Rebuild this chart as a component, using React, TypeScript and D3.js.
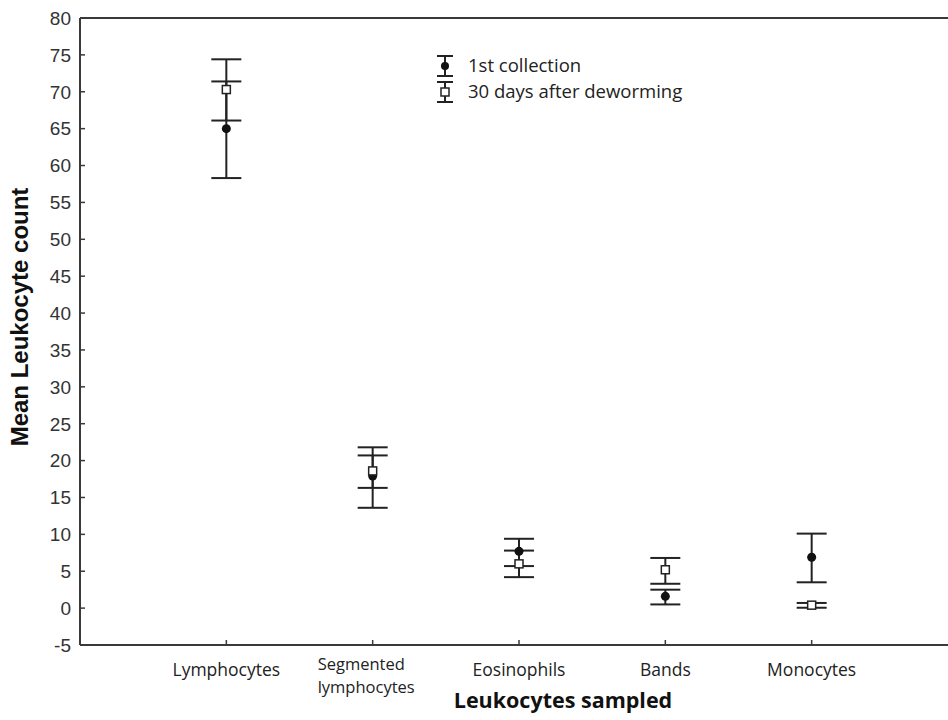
import React from 'react';
import * as d3 from 'd3';

// categories on the x axis (each label may wrap on several lines)
const categories: string[][] = [
  ['Lymphocytes'],
  ['Segmented', 'lymphocytes'],
  ['Eosinophils'],
  ['Bands'],
  ['Monocytes'],
];

// 1st collection (filled circle): mean, lower and upper whisker
const firstMean = [65.0, 17.9, 7.7, 1.6, 6.9];
const firstLow = [58.3, 13.6, 5.7, 0.5, 3.5];
const firstHigh = [71.4, 21.8, 9.4, 2.5, 10.1];

// 30 days after deworming (open square)
const afterMean = [70.3, 18.6, 6.0, 5.2, 0.4];
const afterLow = [66.1, 16.3, 4.2, 3.3, 0.05];
const afterHigh = [74.4, 20.7, 7.8, 6.8, 0.7];

const yTickValues = d3.range(-5, 81, 5);

const legendLabels = ['1st collection', '30 days after deworming'];

const ink = '#222';
const frame = '#3a3a3a';

const App = () => {
  const width = 948;
  const height = 720;
  const left = 80;
  const top = 18;
  const bottom = 645;
  const right = 958; // frame runs past the picture edge

  const keys = categories.map(c => c.join(' '));
  const xScale = d3.scalePoint<string>().domain(keys).range([left, right]).padding(1);
  const yScale = d3.scaleLinear().domain([-5, 80]).range([bottom, top]);

  const capHalf = 15;

  const whisker = (x: number, lo: number, hi: number, k: string) => (
    <g key={k} stroke={ink} strokeWidth={2}>
      <line x1={x} x2={x} y1={yScale(lo)} y2={yScale(hi)} />
      <line x1={x - capHalf} x2={x + capHalf} y1={yScale(lo)} y2={yScale(lo)} />
      <line x1={x - capHalf} x2={x + capHalf} y1={yScale(hi)} y2={yScale(hi)} />
    </g>
  );

  const yTicks = yTickValues.map(v => (
    <g key={v} transform={`translate(0,${yScale(v)})`}>
      <line x1={left} x2={left + 5} stroke={frame} strokeWidth={1.5} />
      <text
        x={left - 9}
        dy="0.36em"
        textAnchor="end"
        fontFamily="'Liberation Sans', Arial, sans-serif"
        fontSize={19}
        fill="#333"
      >
        {v}
      </text>
    </g>
  ));

  const xTicks = categories.map((lines, i) => {
    const x = xScale(keys[i]) as number;
    const multi = lines.length > 1;
    return (
      <g key={keys[i]}>
        <line x1={x} x2={x} y1={bottom} y2={bottom - 5} stroke={frame} strokeWidth={1.5} />
        {lines.map((l, j) => (
          <text
            key={l}
            x={multi ? x - 55 : x}
            y={(multi ? 670 : 676) + j * 22.5}
            fontFamily="'Open Sans', sans-serif"
            fontSize={multi ? 16.5 : 17.5}
            fill={ink}
            textAnchor={multi ? 'start' : 'middle'}
          >
            {l}
          </text>
        ))}
      </g>
    );
  });

  const series = keys.map((k, i) => {
    const x = xScale(k) as number;
    return (
      <g key={k}>
        {whisker(x, firstLow[i], firstHigh[i], 'f')}
        {whisker(x, afterLow[i], afterHigh[i], 'a')}
        <circle cx={x} cy={yScale(firstMean[i])} r={4.5} fill="#111" />
        <rect
          x={x - 4}
          y={yScale(afterMean[i]) - 4}
          width={8}
          height={8}
          fill="#fff"
          stroke={ink}
          strokeWidth={1.5}
        />
      </g>
    );
  });

  // legend
  const legX = 445;
  const legY = [66, 92];
  const legend = legendLabels.map((label, i) => (
    <g key={label} transform={`translate(${legX},${legY[i]})`}>
      <g stroke={ink} strokeWidth={2}>
        <line y1={-10} y2={10} />
        <line x1={-8} x2={8} y1={-10} y2={-10} />
        <line x1={-8} x2={8} y1={10} y2={10} />
      </g>
      {i === 0 ? (
        <circle r={4} fill="#111" />
      ) : (
        <rect x={-4} y={-4} width={8} height={8} fill="#fff" stroke={ink} strokeWidth={1.5} />
      )}
      <text x={23} dy="0.35em" fontFamily="'Open Sans', sans-serif" fontSize={18.5} fill={ink}>
        {label}
      </text>
    </g>
  ));

  return (
    <div style={{ position: 'absolute', left: 0, top: 0 }}>
      <svg width={width} height={height} style={{ display: 'block', background: '#fff' }}>
        <g fill="none" stroke={frame} strokeWidth={2}>
          <line x1={left} x2={left} y1={top} y2={bottom} />
          <line x1={left} x2={right} y1={top} y2={top} />
          <line x1={left} x2={right} y1={bottom} y2={bottom} />
        </g>
        {yTicks}
        {xTicks}
        {series}
        {legend}
        <text
          transform={`translate(28,317) rotate(-90)`}
          textAnchor="middle"
          fontFamily="'Liberation Sans', Arial, sans-serif"
          fontWeight="bold"
          fontSize={24}
          fill="#111"
        >
          Mean Leukocyte count
        </text>
        <text
          x={563}
          y={708}
          textAnchor="middle"
          fontFamily="'Open Sans', sans-serif"
          fontWeight="bold"
          fontSize={21.5}
          fill="#111"
        >
          Leukocytes sampled
        </text>
      </svg>
    </div>
  );
};

export default App;
